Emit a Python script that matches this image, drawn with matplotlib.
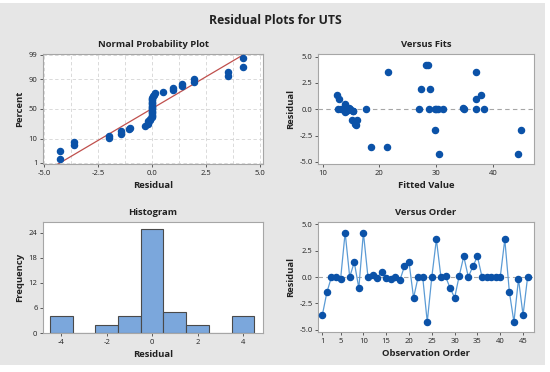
import numpy as np
import matplotlib
matplotlib.use('Agg')
import matplotlib.pyplot as plt
from matplotlib.patches import Rectangle
from statistics import NormalDist

plt.rcParams['font.family'] = ['Open Sans', 'DejaVu Sans']
plt.rcParams['axes.unicode_minus'] = False

# residuals in observation order (1..46)
residuals = [-3.6, -1.45, 0.0, 0.0, -0.2, 4.2, 0.0, 1.4, -1.05, 4.2,
             0.0, 0.15, -0.1, 0.5, -0.1, -0.2, 0.0, -0.3, 1.0, 1.4,
             -1.97, 0.0, 0.0, -4.25, 0.0, 3.55, 0.0, 0.05, -1.03, -1.97,
             0.1, 1.95, 0.0, 1.0, 1.95, 0.0, 0.0, 0.0, 0.0, 0.0,
             3.55, -1.42, -4.25, -0.2, -3.6, 0.0]
# fitted values for the same observations
fitted = [18.5, 15.8, 12.8, 13.6, 14.1, 28.2, 14.3, 12.5, 15.2, 28.5,
          14.8, 34.75, 13.9, 14.0, 14.5, 15.4, 17.7, 14.0, 12.9, 37.8,
          29.8, 27.0, 28.7, 30.5, 29.7, 21.6, 30.0, 13.3, 16.1, 45.0,
          14.6, 27.3, 30.3, 37.0, 28.9, 31.2, 34.9, 37.0, 38.4, 14.2,
          37.0, 15.7, 44.4, 15.3, 21.4, 13.7]
pct_ticks = [1, 10, 50, 90, 99]
hist_edges = [-4.5, -3.5, -2.5, -1.5, -0.5, 0.5, 1.5, 2.5, 3.5, 4.5]

blue = '#0b52a8'
line_blue = '#5b9bd5'
grey_bg = '#e6e6e6'
spine_c = '#a6a6a6'
txt = '#222222'

nd = NormalDist()
to_z = np.vectorize(lambda p: nd.inv_cdf(min(max(p / 100.0, 1e-9), 1 - 1e-9)), otypes=[float])
to_p = np.vectorize(lambda z: nd.cdf(z) * 100.0, otypes=[float])

fig = plt.figure(figsize=(5.5, 3.72), dpi=100)
fig.patch.set_facecolor('white')
fig.patches.append(Rectangle((0, 7 / 372), 545 / 550, 362 / 372, transform=fig.transFigure,
                             facecolor=grey_bg, edgecolor='none', zorder=-10))
fig.text(0.5, 1 - 20 / 372, 'Residual Plots for UTS', ha='center', va='center',
         fontsize=8.8, fontweight='bold', color=txt)


def make_ax(l, t, r, b):
    W, H = 550, 372
    ax = fig.add_axes([l / W, 1 - b / H, (r - l) / W, (b - t) / H])
    ax.set_facecolor('white')
    for s in ax.spines.values():
        s.set_color(spine_c)
        s.set_linewidth(0.8)
    ax.tick_params(labelsize=5.5, colors='#444444', labelcolor=txt, length=2.5, width=0.6, pad=1.5)
    return ax


def titles(ax, title, xl, yl):
    ax.set_title(title, fontsize=6.8, fontweight='bold', color=txt, pad=5)
    ax.set_xlabel(xl, fontsize=6.8, fontweight='bold', color=txt, labelpad=3)
    ax.set_ylabel(yl, fontsize=6.8, fontweight='bold', color=txt, labelpad=3)


res = np.array(residuals)
n = len(res)

# normal probability plot
ax1 = make_ax(43, 54, 263, 164)
ax1.set_yscale('function', functions=(to_z, to_p))
srt = np.sort(res)
pp = (np.arange(1, n + 1) - 0.3) / (n + 0.4) * 100
mu, sd = res.mean(), res.std(ddof=1)
zz = np.linspace(-2.5, 2.5, 60)
ax1.plot(mu + sd * zz, to_p(zz), color='#c0504d', lw=0.9, zorder=2)
ax1.plot(srt, pp, 'o', color=blue, ms=4.4, zorder=3)
ax1.set_xlim(-5.05, 5.15)
ax1.set_ylim(to_p(-2.37), to_p(2.356))
ax1.set_xticks([-5, -2.5, 0, 2.5, 5])
ax1.set_xticklabels(['-5.0', '-2.5', '0.0', '2.5', '5.0'])
ax1.set_xticks(np.arange(-5, 5.1, 1.25), minor=True)
ax1.set_yticks(pct_ticks)
ax1.set_yticklabels([str(p) for p in pct_ticks])
ax1.yaxis.set_minor_locator(matplotlib.ticker.NullLocator())
ax1.tick_params(which='minor', length=0)
ax1.grid(True, which='both', axis='x', ls=(0, (4, 3)), color='#d4d4d4', lw=0.6)
ax1.grid(True, which='major', axis='y', ls=(0, (4, 3)), color='#d4d4d4', lw=0.6)
ax1.set_axisbelow(True)
titles(ax1, 'Normal Probability Plot', 'Residual', 'Percent')

# versus fits
ax2 = make_ax(318, 54, 534, 164)
ax2.axhline(0, color='#a6a6a6', ls=(0, (4, 3)), lw=0.8, zorder=1)
ax2.plot(fitted, residuals, 'o', color=blue, ms=4.4, zorder=3)
ax2.set_xlim(9.2, 47.2)
ax2.set_ylim(-5.2, 5.25)
ax2.set_xticks([10, 20, 30, 40])
ax2.set_yticks([-5, -2.5, 0, 2.5, 5])
ax2.set_yticklabels(['-5.0', '-2.5', '0.0', '2.5', '5.0'])
titles(ax2, 'Versus Fits', 'Fitted Value', 'Residual')

# histogram
ax3 = make_ax(43, 222, 263, 333)
ax3.hist(res, bins=hist_edges, color='#7ba7dc', edgecolor='#4a4a4a', lw=0.8)
ax3.set_xlim(-4.8, 4.88)
ax3.set_ylim(0, 26.6)
ax3.set_xticks([-4, -2, 0, 2, 4])
ax3.set_yticks([0, 6, 12, 18, 24])
titles(ax3, 'Histogram', 'Residual', 'Frequency')

# versus order
ax4 = make_ax(318, 222, 534, 332)
obs = np.arange(1, n + 1)
ax4.axhline(0, color='#a6a6a6', ls=(0, (4, 3)), lw=0.8, zorder=1)
ax4.plot(obs, residuals, '-', color=line_blue, lw=0.9, zorder=2)
ax4.plot(obs, residuals, 'o', color=blue, ms=4.4, zorder=3)
ax4.set_xlim(0.05, 47.4)
ax4.set_ylim(-5.2, 5.2)
ax4.set_xticks([1, 5, 10, 15, 20, 25, 30, 35, 40, 45])
ax4.set_yticks([-5, -2.5, 0, 2.5, 5])
ax4.set_yticklabels(['-5.0', '-2.5', '0.0', '2.5', '5.0'])
titles(ax4, 'Versus Order', 'Observation Order', 'Residual')

fig.savefig('out.png', dpi=100, facecolor=fig.get_facecolor())
